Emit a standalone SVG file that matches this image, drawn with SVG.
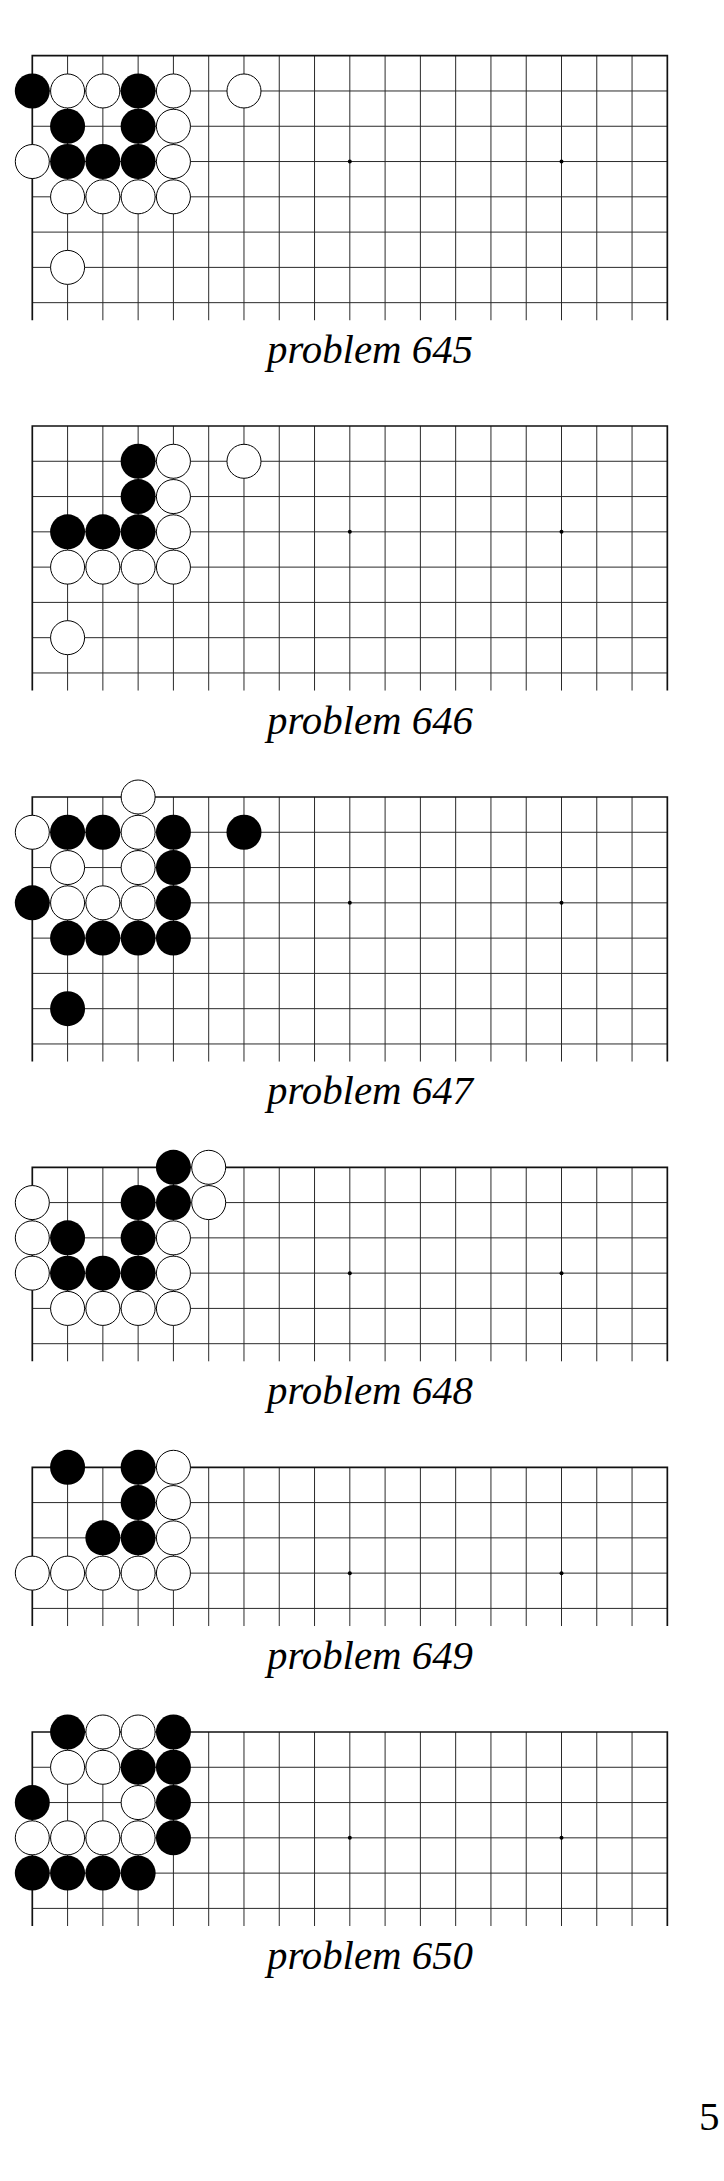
<svg xmlns="http://www.w3.org/2000/svg" xmlns:xlink="http://www.w3.org/1999/xlink" width="724" height="2181" viewBox="0 0 724 2181">
<style>
.grid{fill:none;stroke:#2a2a2a;stroke-width:1}
.edge{fill:none;stroke:#111;stroke-width:1.7}
.star{fill:#000}
.lbl{font-family:"Liberation Serif","Times New Roman",serif;font-style:italic;font-size:40px;fill:#000}
.pg{font-family:"Liberation Serif","Times New Roman",serif;font-size:41px;fill:#000}
</style>
<defs>
<circle id="b" r="17.5" fill="#000"/>
<circle id="w" r="17" fill="#fff" stroke="#000" stroke-width="1"/>
<g id="grid8">
<path class="grid" d="M35.28 0V264.56M70.56 0V264.56M105.84 0V264.56M141.12 0V264.56M176.4 0V264.56M211.68 0V264.56M246.96 0V264.56M282.24 0V264.56M317.52 0V264.56M352.8 0V264.56M388.08 0V264.56M423.36 0V264.56M458.64 0V264.56M493.92 0V264.56M529.2 0V264.56M564.48 0V264.56M599.76 0V264.56M0 35.28H635.04M0 70.56H635.04M0 105.84H635.04M0 141.12H635.04M0 176.4H635.04M0 211.68H635.04M0 246.96H635.04"/>
<path class="edge" d="M0 264.56V0H635.04V264.56"/>
<circle class="star" cx="105.84" cy="105.84" r="2"/><circle class="star" cx="317.52" cy="105.84" r="2"/><circle class="star" cx="529.2" cy="105.84" r="2"/>
</g>
<g id="grid6">
<path class="grid" d="M35.28 0V194M70.56 0V194M105.84 0V194M141.12 0V194M176.4 0V194M211.68 0V194M246.96 0V194M282.24 0V194M317.52 0V194M352.8 0V194M388.08 0V194M423.36 0V194M458.64 0V194M493.92 0V194M529.2 0V194M564.48 0V194M599.76 0V194M0 35.28H635.04M0 70.56H635.04M0 105.84H635.04M0 141.12H635.04M0 176.4H635.04"/>
<path class="edge" d="M0 194V0H635.04V194"/>
<circle class="star" cx="105.84" cy="105.84" r="2"/><circle class="star" cx="317.52" cy="105.84" r="2"/><circle class="star" cx="529.2" cy="105.84" r="2"/>
</g>
<g id="grid5">
<path class="grid" d="M35.28 0V158.72M70.56 0V158.72M105.84 0V158.72M141.12 0V158.72M176.4 0V158.72M211.68 0V158.72M246.96 0V158.72M282.24 0V158.72M317.52 0V158.72M352.8 0V158.72M388.08 0V158.72M423.36 0V158.72M458.64 0V158.72M493.92 0V158.72M529.2 0V158.72M564.48 0V158.72M599.76 0V158.72M0 35.28H635.04M0 70.56H635.04M0 105.84H635.04M0 141.12H635.04"/>
<path class="edge" d="M0 158.72V0H635.04V158.72"/>
<circle class="star" cx="105.84" cy="105.84" r="2"/><circle class="star" cx="317.52" cy="105.84" r="2"/><circle class="star" cx="529.2" cy="105.84" r="2"/>
</g>
</defs>

<g id="problem-645" transform="translate(32.3 55.7)">
<use href="#grid8"/>
<use href="#b" x="0" y="35.28"/><use href="#w" x="35.28" y="35.28"/><use href="#w" x="70.56" y="35.28"/><use href="#b" x="105.84" y="35.28"/><use href="#w" x="141.12" y="35.28"/><use href="#w" x="211.68" y="35.28"/>
<use href="#b" x="35.28" y="70.56"/><use href="#b" x="105.84" y="70.56"/><use href="#w" x="141.12" y="70.56"/>
<use href="#w" x="0" y="105.84"/><use href="#b" x="35.28" y="105.84"/><use href="#b" x="70.56" y="105.84"/><use href="#b" x="105.84" y="105.84"/><use href="#w" x="141.12" y="105.84"/>
<use href="#w" x="35.28" y="141.12"/><use href="#w" x="70.56" y="141.12"/><use href="#w" x="105.84" y="141.12"/><use href="#w" x="141.12" y="141.12"/>
<use href="#w" x="35.28" y="211.68"/>
</g>
<text id="label-645" class="lbl" x="267" y="363.3" textLength="206" lengthAdjust="spacingAndGlyphs">problem 645</text>

<g id="problem-646" transform="translate(32.3 426)">
<use href="#grid8"/>
<use href="#b" x="105.84" y="35.28"/><use href="#w" x="141.12" y="35.28"/><use href="#w" x="211.68" y="35.28"/>
<use href="#b" x="105.84" y="70.56"/><use href="#w" x="141.12" y="70.56"/>
<use href="#b" x="35.28" y="105.84"/><use href="#b" x="70.56" y="105.84"/><use href="#b" x="105.84" y="105.84"/><use href="#w" x="141.12" y="105.84"/>
<use href="#w" x="35.28" y="141.12"/><use href="#w" x="70.56" y="141.12"/><use href="#w" x="105.84" y="141.12"/><use href="#w" x="141.12" y="141.12"/>
<use href="#w" x="35.28" y="211.68"/>
</g>
<text id="label-646" class="lbl" x="267" y="733.6" textLength="206" lengthAdjust="spacingAndGlyphs">problem 646</text>

<g id="problem-647" transform="translate(32.3 797)">
<use href="#grid8"/>
<use href="#w" x="105.84" y="0"/>
<use href="#w" x="0" y="35.28"/><use href="#b" x="35.28" y="35.28"/><use href="#b" x="70.56" y="35.28"/><use href="#w" x="105.84" y="35.28"/><use href="#b" x="141.12" y="35.28"/><use href="#b" x="211.68" y="35.28"/>
<use href="#w" x="35.28" y="70.56"/><use href="#w" x="105.84" y="70.56"/><use href="#b" x="141.12" y="70.56"/>
<use href="#b" x="0" y="105.84"/><use href="#w" x="35.28" y="105.84"/><use href="#w" x="70.56" y="105.84"/><use href="#w" x="105.84" y="105.84"/><use href="#b" x="141.12" y="105.84"/>
<use href="#b" x="35.28" y="141.12"/><use href="#b" x="70.56" y="141.12"/><use href="#b" x="105.84" y="141.12"/><use href="#b" x="141.12" y="141.12"/>
<use href="#b" x="35.28" y="211.68"/>
</g>
<text id="label-647" class="lbl" x="267" y="1104.4" textLength="206" lengthAdjust="spacingAndGlyphs">problem 647</text>

<g id="problem-648" transform="translate(32.3 1167.3)">
<use href="#grid6"/>
<use href="#b" x="141.12" y="0"/><use href="#w" x="176.4" y="0"/>
<use href="#w" x="0" y="35.28"/><use href="#b" x="105.84" y="35.28"/><use href="#b" x="141.12" y="35.28"/><use href="#w" x="176.4" y="35.28"/>
<use href="#w" x="0" y="70.56"/><use href="#b" x="35.28" y="70.56"/><use href="#b" x="105.84" y="70.56"/><use href="#w" x="141.12" y="70.56"/>
<use href="#w" x="0" y="105.84"/><use href="#b" x="35.28" y="105.84"/><use href="#b" x="70.56" y="105.84"/><use href="#b" x="105.84" y="105.84"/><use href="#w" x="141.12" y="105.84"/>
<use href="#w" x="35.28" y="141.12"/><use href="#w" x="70.56" y="141.12"/><use href="#w" x="105.84" y="141.12"/><use href="#w" x="141.12" y="141.12"/>
</g>
<text id="label-648" class="lbl" x="267" y="1404.3" textLength="206" lengthAdjust="spacingAndGlyphs">problem 648</text>

<g id="problem-649" transform="translate(32.3 1467.3)">
<use href="#grid5"/>
<use href="#b" x="35.28" y="0"/><use href="#b" x="105.84" y="0"/><use href="#w" x="141.12" y="0"/>
<use href="#b" x="105.84" y="35.28"/><use href="#w" x="141.12" y="35.28"/>
<use href="#b" x="70.56" y="70.56"/><use href="#b" x="105.84" y="70.56"/><use href="#w" x="141.12" y="70.56"/>
<use href="#w" x="0" y="105.84"/><use href="#w" x="35.28" y="105.84"/><use href="#w" x="70.56" y="105.84"/><use href="#w" x="105.84" y="105.84"/><use href="#w" x="141.12" y="105.84"/>
</g>
<text id="label-649" class="lbl" x="267" y="1668.7" textLength="206" lengthAdjust="spacingAndGlyphs">problem 649</text>

<g id="problem-650" transform="translate(32.3 1732)">
<use href="#grid6"/>
<use href="#b" x="35.28" y="0"/><use href="#w" x="70.56" y="0"/><use href="#w" x="105.84" y="0"/><use href="#b" x="141.12" y="0"/>
<use href="#w" x="35.28" y="35.28"/><use href="#w" x="70.56" y="35.28"/><use href="#b" x="105.84" y="35.28"/><use href="#b" x="141.12" y="35.28"/>
<use href="#b" x="0" y="70.56"/><use href="#w" x="105.84" y="70.56"/><use href="#b" x="141.12" y="70.56"/>
<use href="#w" x="0" y="105.84"/><use href="#w" x="35.28" y="105.84"/><use href="#w" x="70.56" y="105.84"/><use href="#w" x="105.84" y="105.84"/><use href="#b" x="141.12" y="105.84"/>
<use href="#b" x="0" y="141.12"/><use href="#b" x="35.28" y="141.12"/><use href="#b" x="70.56" y="141.12"/><use href="#b" x="105.84" y="141.12"/>
</g>
<text id="label-650" class="lbl" x="267" y="1968.7" textLength="206" lengthAdjust="spacingAndGlyphs">problem 650</text>

<g id="connectors"></g>
<text id="page-number" class="pg" x="699" y="2130">5</text>
</svg>
